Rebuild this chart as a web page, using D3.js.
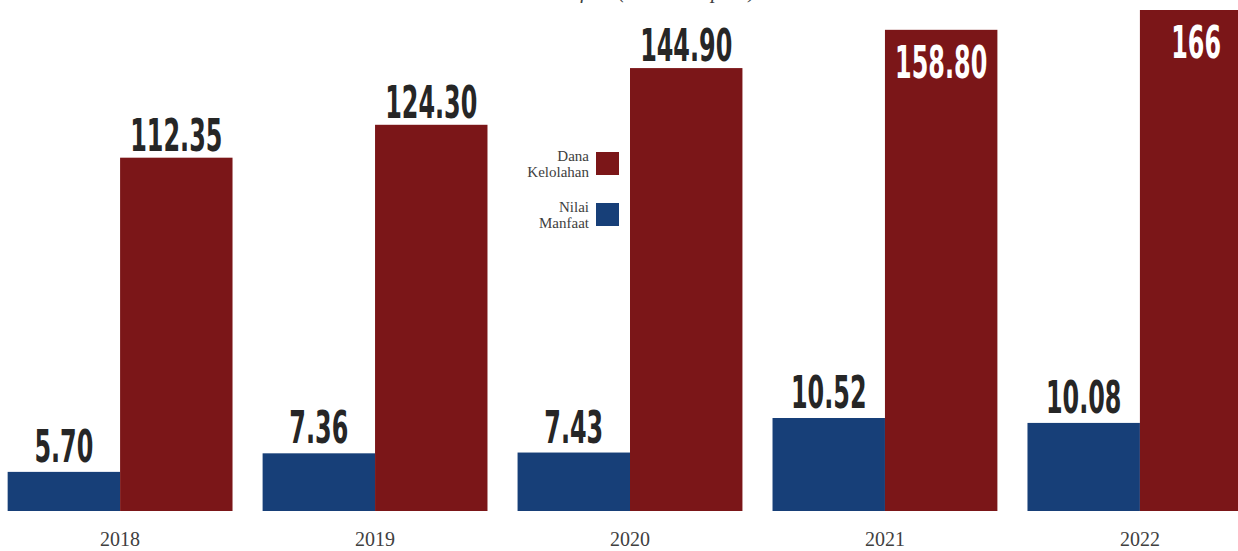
<!DOCTYPE html>
<html>
<head>
<meta charset="utf-8">
<script src="https://cdn.jsdelivr.net/npm/d3@7"></script>
<style>
  html, body { margin: 0; padding: 0; background: #fff; overflow: hidden; }
  svg { display: block; }
</style>
</head>
<body>
<main></main>
<script>
const years = ["2018", "2019", "2020", "2021", "2022"];
const nilaiManfaat = [5.70, 7.36, 7.43, 10.52, 10.08];
const danaKelolahan = [112.35, 124.30, 144.90, 158.80, 166];
const nilaiLabels = ["5.70", "7.36", "7.43", "10.52", "10.08"];
const danaLabels = ["112.35", "124.30", "144.90", "158.80", "166"];
const seriesNames = ["Nilai Manfaat", "Dana Kelolahan"];

const w = 1238;
const h = 551;
const base = 511; // baseline of the bars

const red = "#7b1618";
const blue = "#173f78";

const svg = d3.select("main").append("svg")
  .attr("width", w)
  .attr("height", h);

// group scale (one band per year)
const x = d3.scaleBand()
  .domain(years)
  .range([0, 1260])
  .paddingInner(0.118)
  .paddingOuter(0.03);

const xs = d3.scaleBand()
  .domain(seriesNames)
  .range([0, x.bandwidth()]);

// the original chart does not start its axes at zero: two separate scales
const yDana = d3.scaleLinear().domain([-16, 166]).range([base, 10]);
const yNilai = d3.scaleLinear().domain([2.2, 10.52]).range([base, 418]);

// title, mostly cut off by the top edge
svg.append("text")
  .attr("x", 625)
  .attr("y", -2)
  .attr("text-anchor", "middle")
  .style("font-family", "'Liberation Serif', serif")
  .style("font-style", "italic")
  .style("font-size", "21px")
  .style("fill", "#404040")
  .text("Nilai Manfaat (Triliun Rupiah)");

const g = svg.selectAll("g.year")
  .data(years)
  .enter()
  .append("g")
  .attr("class", "year")
  .attr("transform", d => `translate(${x(d)},0)`);

// blue bars
g.append("rect")
  .attr("x", xs("Nilai Manfaat"))
  .attr("y", (d, i) => yNilai(nilaiManfaat[i]))
  .attr("width", xs.bandwidth())
  .attr("height", (d, i) => base - yNilai(nilaiManfaat[i]))
  .attr("fill", blue);

// red bars
g.append("rect")
  .attr("x", xs("Dana Kelolahan"))
  .attr("y", (d, i) => yDana(danaKelolahan[i]))
  .attr("width", xs.bandwidth())
  .attr("height", (d, i) => base - yDana(danaKelolahan[i]))
  .attr("fill", red);

// value labels, condensed look via horizontal squeeze
function valueLabel(sel, cx, cy, txt, color) {
  sel.append("text")
    .attr("transform", `translate(${cx},${cy}) scale(0.59,1)`)
    .attr("text-anchor", "middle")
    .style("font-family", "'DejaVu Sans Condensed', 'DejaVu Sans', sans-serif")
    .style("font-weight", "bold")
    .style("font-size", "45px")
    .style("fill", color)
    .text(txt);
}

g.each(function (d, i) {
  const sel = d3.select(this);
  const bx = xs("Nilai Manfaat") + xs.bandwidth() / 2;
  valueLabel(sel, bx, yNilai(nilaiManfaat[i]) - 10, nilaiLabels[i], "#262626");
  const rx = xs("Dana Kelolahan") + xs.bandwidth() / 2;
  const top = yDana(danaKelolahan[i]);
  if (i >= 3) {
    valueLabel(sel, rx, top + 48, danaLabels[i], "#ffffff");
  } else {
    valueLabel(sel, rx, top - 7, danaLabels[i], "#262626");
  }
});

// x axis labels at the middle of each group
const axisX = d3.axisBottom(x).tickSize(0).tickPadding(0);
const ax = svg.append("g")
  .attr("transform", `translate(0, ${base})`)
  .call(axisX);
ax.select(".domain").remove();
ax.selectAll("text")
  .attr("y", 35)
  .attr("dy", 0)
  .style("font-family", "'Liberation Serif', serif")
  .style("font-size", "20px")
  .style("fill", "#404040");

// legend
const legend = [
  { name: ["Dana", "Kelolahan"], color: red, y: 152 },
  { name: ["Nilai", "Manfaat"], color: blue, y: 203 }
];
const lg = svg.selectAll("g.legend")
  .data(legend)
  .enter()
  .append("g")
  .attr("class", "legend")
  .attr("transform", d => `translate(596,${d.y})`);
lg.append("rect")
  .attr("width", 23)
  .attr("height", 23)
  .attr("fill", d => d.color);
lg.append("text")
  .attr("text-anchor", "end")
  .attr("x", -7)
  .style("font-family", "'Liberation Serif', serif")
  .style("font-size", "15px")
  .style("fill", "#404040")
  .selectAll("tspan")
  .data(d => d.name)
  .enter()
  .append("tspan")
  .attr("x", -7)
  .attr("y", (d, i) => 9 + i * 16)
  .text(d => d);
</script>
</body>
</html>
